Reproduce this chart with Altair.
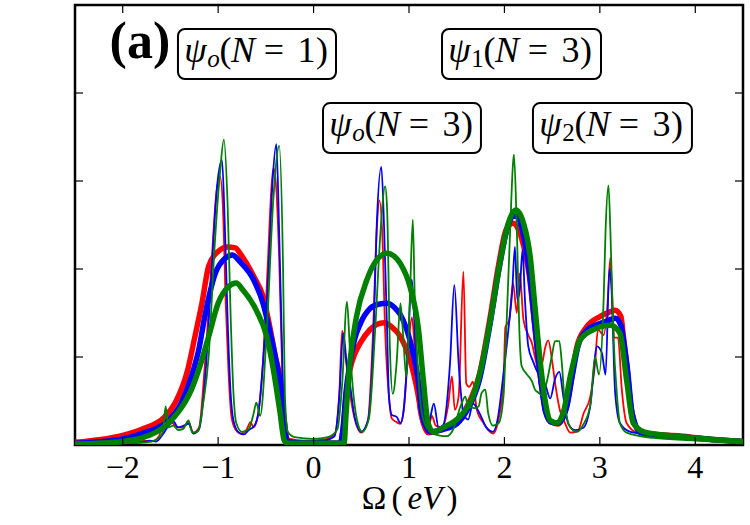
import altair as alt
import pandas as pd

# ---------------------------------------------------------------------------
# Spectral functions A(Omega) for the three states, sharp (thin) and
# broadened (thick) versions.
# ---------------------------------------------------------------------------
red_thin_x = [-2.50, -2.20, -2.00, -1.85, -1.77, -1.70, -1.62, -1.56, -1.53, -1.48, -1.43, -1.37,
              -1.31, -1.26, -1.20, -1.14, -1.07, -1.02, -0.98, -0.95, -0.92, -0.89, -0.86, -0.82,
              -0.76, -0.70, -0.66, -0.63, -0.59, -0.53, -0.48, -0.44, -0.42, -0.39, -0.36, -0.33,
              -0.30, -0.25, -0.10, 0.10, 0.22, 0.27, 0.30, 0.33, 0.38, 0.43, 0.50, 0.57, 0.62,
              0.66, 0.69, 0.72, 0.75, 0.79, 0.82, 0.87, 0.91, 0.95, 0.99, 1.03, 1.06, 1.10, 1.15,
              1.20, 1.24, 1.28, 1.35, 1.41, 1.45, 1.48, 1.52, 1.57, 1.60, 1.63, 1.67, 1.71, 1.78,
              1.88, 1.94, 1.99, 2.01, 2.05, 2.09, 2.13, 2.16, 2.20, 2.25, 2.29, 2.32, 2.36, 2.40,
              2.43, 2.46, 2.50, 2.54, 2.58, 2.63, 2.69, 2.77, 2.83, 2.90, 2.95, 2.98, 3.04, 3.08,
              3.11, 3.13, 3.15, 3.19, 3.23, 3.28, 3.39, 3.60, 3.84, 4.10, 4.50]
red_thin_y = [0.01, 0.02, 0.03, 0.03, 0.05, 0.04, 0.10, 0.35, 0.22, 0.25, 0.20, 0.20,
              0.26, 0.14, 0.20, 0.90, 2.05, 2.85, 3.05, 2.70, 1.60, 0.80, 0.32, 0.18,
              0.13, 0.18, 0.26, 0.20, 0.30, 0.95, 2.05, 2.95, 3.15, 2.90, 2.10, 0.90,
              0.18, 0.07, 0.05, 0.06, 0.12, 0.60, 1.30, 1.05, 0.60, 0.30, 0.14, 0.28, 1.20,
              2.40, 2.78, 2.40, 1.30, 0.55, 0.30, 0.26, 0.24, 0.45, 1.05, 1.45, 1.10, 0.40, 0.22,
              0.18, 0.33, 0.22, 0.20, 0.45, 0.78, 0.40, 0.55, 1.97, 0.70, 0.66, 0.72, 0.40, 0.25,
              0.13, 0.30, 0.70, 1.34, 1.42, 1.84, 1.50, 1.95, 1.42, 1.25, 1.15, 1.00, 0.85, 0.95,
              1.12, 1.19, 0.95, 0.64, 0.40, 0.26, 0.14, 0.16, 0.36, 0.55, 0.93, 1.31, 1.25, 1.60,
              2.13, 1.67, 1.22, 1.22, 0.63, 0.25, 0.14, 0.11, 0.10, 0.07, 0.03]

blue_thin_x = [-2.50, -2.00, -1.80, -1.72, -1.65, -1.58, -1.52, -1.47, -1.42, -1.36, -1.31, -1.26,
               -1.20, -1.13, -1.07, -1.01, -0.96, -0.93, -0.90, -0.87, -0.84, -0.79, -0.73, -0.68,
               -0.62, -0.58, -0.53, -0.47, -0.43, -0.39, -0.36, -0.33, -0.31, -0.27, -0.10, 0.10,
               0.22, 0.27, 0.31, 0.35, 0.38, 0.43, 0.50, 0.57, 0.63, 0.66, 0.71, 0.74, 0.77, 0.79,
               0.82, 0.87, 0.91, 0.94, 0.98, 1.03, 1.06, 1.11, 1.17, 1.22, 1.26, 1.31, 1.36, 1.43,
               1.475, 1.52, 1.57, 1.62, 1.67, 1.74, 1.81, 1.88, 1.93, 1.99, 2.06, 2.08, 2.11, 2.135,
               2.16, 2.19, 2.215, 2.25, 2.30, 2.36, 2.40, 2.43, 2.48, 2.53, 2.575, 2.62, 2.67, 2.74,
               2.83, 2.90, 2.97, 3.02, 3.06, 3.10, 3.12, 3.16, 3.21, 3.32, 3.70, 4.10, 4.50]
blue_thin_y = [0.01, 0.02, 0.03, 0.05, 0.04, 0.12, 0.22, 0.27, 0.20, 0.22, 0.24, 0.13,
               0.18, 0.85, 1.95, 2.95, 3.24, 2.50, 1.40, 0.60, 0.28, 0.15, 0.12, 0.17,
               0.22, 0.35, 0.93, 2.03, 2.99, 3.42, 2.39, 1.07, 0.20, 0.06, 0.04, 0.05,
               0.10, 0.55, 1.27, 0.90, 0.70, 0.32, 0.15, 0.28, 1.31, 2.44, 3.16, 2.44, 1.31, 0.55,
               0.34, 0.32, 0.25, 0.36, 0.93, 1.88, 1.31, 0.40, 0.20, 0.30, 0.47, 0.20, 0.23, 0.93,
               1.82, 0.93, 0.36, 0.29, 0.47, 0.36, 0.20, 0.15, 0.30, 0.81, 1.50, 1.72, 2.25, 1.65,
               1.75, 2.22, 1.65, 1.12, 0.95, 0.80, 0.74, 0.68, 0.53, 0.75, 0.83, 0.53, 0.24, 0.17,
               0.20, 0.45, 1.12, 1.05, 0.80, 2.00, 1.82, 0.60, 0.25, 0.15, 0.10, 0.06, 0.03]

green_thin_x = [-2.50, -2.00, -1.75, -1.65, -1.58, -1.55, -1.52, -1.47, -1.42, -1.37, -1.31, -1.27,
                -1.21, -1.16, -1.10, -1.04, -0.98, -0.94, -0.90, -0.87, -0.84, -0.81, -0.75, -0.68,
                -0.63, -0.60, -0.56, -0.49, -0.42, -0.36, -0.32, -0.30, -0.27, -0.20, 0.00, 0.15,
                0.25, 0.30, 0.35, 0.38, 0.42, 0.47, 0.51, 0.58, 0.65, 0.70, 0.75, 0.77, 0.80, 0.83,
                0.87, 0.91, 0.94, 0.97, 1.01, 1.04, 1.06, 1.10, 1.15, 1.22, 1.31, 1.40, 1.46, 1.55,
                1.59, 1.62, 1.69, 1.73, 1.76, 1.80, 1.83, 1.88, 1.94, 1.99, 2.02, 2.06, 2.09, 2.10,
                2.13, 2.16, 2.18, 2.23, 2.29, 2.32, 2.35, 2.39, 2.44, 2.50, 2.53, 2.575, 2.60, 2.635,
                2.69, 2.76, 2.83, 2.90, 2.95, 2.99, 3.04, 3.06, 3.09, 3.11, 3.14, 3.18, 3.21, 3.28,
                3.56, 4.00, 4.50]
green_thin_y = [0.01, 0.02, 0.03, 0.06, 0.15, 0.44, 0.20, 0.22, 0.17, 0.18, 0.28, 0.14,
                0.16, 0.45, 1.00, 2.20, 3.10, 3.47, 2.70, 1.50, 0.60, 0.25, 0.15, 0.18,
                0.35, 0.48, 0.33, 1.31, 2.82, 3.40, 2.03, 0.55, 0.15, 0.09, 0.07, 0.09,
                0.18, 0.70, 1.63, 1.10, 0.55, 0.22, 0.15, 0.30, 1.40, 2.40, 2.94, 2.70, 1.10, 0.58,
                0.93, 1.61, 1.23, 0.78, 1.69, 2.56, 1.69, 0.74, 0.29, 0.15, 0.11, 0.10, 0.17, 0.47,
                0.55, 0.44, 0.42, 0.44, 0.59, 0.63, 0.36, 0.22, 0.25, 0.55, 1.31, 2.44, 3.20, 3.30,
                2.44, 1.20, 0.90, 0.81, 0.72, 0.63, 0.60, 0.57, 0.70, 1.03, 1.18, 1.18, 0.95, 0.44,
                0.20, 0.15, 0.24, 0.45, 1.00, 0.80, 1.67, 2.44, 2.95, 2.44, 1.31, 0.55, 0.25, 0.14,
                0.08, 0.05, 0.02]

red_thick_x = [-2.50, -2.25, -2.00, -1.80, -1.56, -1.45, -1.32, -1.24, -1.17, -1.10, -1.00, -0.90,
               -0.82, -0.76, -0.70, -0.62, -0.53, -0.46, -0.40, -0.35, -0.31, -0.28, -0.25, 0.28,
               0.31, 0.34, 0.38, 0.43, 0.49, 0.59, 0.66, 0.74, 0.82, 0.91, 1.01, 1.08, 1.15, 1.20,
               1.30, 1.40, 1.50, 1.60, 1.74, 1.85, 1.94, 2.02, 2.09, 2.15, 2.20, 2.26, 2.32, 2.38,
               2.43, 2.48, 2.56, 2.65, 2.71, 2.76, 2.86, 3.00, 3.10, 3.16, 3.22, 3.25, 3.28, 3.33,
               3.42, 3.60, 3.87, 4.20, 4.50]
red_thick_y = [0.03, 0.06, 0.11, 0.18, 0.32, 0.48, 0.85, 1.25, 1.61, 2.03, 2.20, 2.25,
               2.24, 2.16, 2.06, 1.90, 1.69, 1.35, 1.00, 0.74, 0.30, 0.06, 0.02, 0.02,
               0.18, 0.55, 0.85, 1.03, 1.16, 1.31, 1.37, 1.39, 1.34, 1.23, 0.97, 0.66, 0.25, 0.14,
               0.16, 0.20, 0.25, 0.42, 0.81, 1.45, 2.05, 2.45, 2.52, 2.44, 2.27, 1.93, 1.33, 0.75,
               0.40, 0.27, 0.24, 0.44, 0.80, 1.12, 1.34, 1.46, 1.51, 1.53, 1.46, 1.20, 0.93, 0.40,
               0.15, 0.12, 0.10, 0.06, 0.04]

blue_thick_x = [-2.50, -2.00, -1.80, -1.52, -1.40, -1.28, -1.20, -1.14, -1.03, -0.93, -0.85, -0.77,
                -0.63, -0.53, -0.46, -0.40, -0.35, -0.31, -0.28, -0.25, 0.28, 0.31, 0.34, 0.38,
                0.43, 0.49, 0.59, 0.68, 0.77, 0.85, 0.91, 1.01, 1.08, 1.15, 1.22, 1.30, 1.40, 1.50,
                1.60, 1.74, 1.85, 1.94, 2.02, 2.09, 2.13, 2.20, 2.26, 2.32, 2.38, 2.43, 2.49, 2.56,
                2.65, 2.71, 2.77, 2.86, 3.00, 3.10, 3.16, 3.22, 3.26, 3.29, 3.34, 3.43, 3.60, 3.87,
                4.20, 4.50]
blue_thick_y = [0.02, 0.07, 0.13, 0.28, 0.45, 0.78, 1.10, 1.46, 1.95, 2.12, 2.16, 2.08,
                1.88, 1.61, 1.30, 1.00, 0.70, 0.28, 0.05, 0.02, 0.02, 0.20, 0.60, 0.92,
                1.20, 1.38, 1.55, 1.60, 1.61, 1.56, 1.48, 1.19, 0.85, 0.32, 0.15, 0.16, 0.19, 0.24,
                0.38, 0.75, 1.38, 1.98, 2.42, 2.60, 2.60, 2.38, 1.98, 1.35, 0.75, 0.38, 0.26, 0.25,
                0.42, 0.78, 1.12, 1.30, 1.38, 1.42, 1.44, 1.36, 1.10, 0.85, 0.35, 0.14, 0.11, 0.09,
                0.06, 0.04]

green_thick_x = [-2.50, -2.00, -1.80, -1.52, -1.40, -1.28, -1.19, -1.10, -1.00, -0.89, -0.81, -0.74,
                 -0.60, -0.49, -0.42, -0.35, -0.31, -0.28, 0.32, 0.34, 0.38, 0.45, 0.56, 0.66,
                 0.77, 0.84, 0.91, 1.01, 1.10, 1.15, 1.20, 1.255, 1.36, 1.53, 1.67, 1.74, 1.85, 1.95,
                 2.04, 2.12, 2.20, 2.27, 2.32, 2.37, 2.42, 2.48, 2.55, 2.62, 2.69, 2.75, 2.79, 2.93,
                 3.11, 3.21, 3.28, 3.35, 3.46, 3.70, 4.00, 4.50]
green_thick_y = [0.01, 0.04, 0.08, 0.25, 0.40, 0.63, 0.90, 1.23, 1.61, 1.80, 1.84, 1.76,
                 1.53, 1.23, 0.85, 0.36, 0.06, 0.02, 0.02, 0.35, 0.93, 1.46, 1.88, 2.10,
                 2.18, 2.15, 2.06, 1.80, 1.31, 0.74, 0.25, 0.15, 0.20, 0.32, 0.55, 0.80, 1.40, 2.05,
                 2.52, 2.67, 2.52, 2.14, 1.57, 1.00, 0.55, 0.28, 0.25, 0.38, 0.78, 1.05, 1.19, 1.31,
                 1.36, 1.27, 0.74, 0.25, 0.15, 0.11, 0.08, 0.04]

x_ticks = [-2, -1, 0, 1, 2, 3, 4]
x_tick_labels = ["\u22122", "\u22121", "0", "1", "2", "3", "4"]
y_ticks = [1, 2, 3, 4]

# state labels: box extents (data units), subscript and particle number
box_x0 = [-1.421, 0.099, 1.346, 2.299]
box_x1 = [0.235, 1.754, 3.012, 3.965]
box_y0 = [4.159, 3.318, 4.159, 3.318]
box_y1 = [4.727, 3.886, 4.727, 3.886]
box_sub = ["o", "o", "1", "2"]
box_n = ["1", "3", "3", "3"]

# ---------------------------------------------------------------------------
X_MIN, X_MAX = -2.5, 4.5
Y_MIN, Y_MAX = 0.0, 5.0
W, H = 668, 440
SERIF = "Liberation Serif"
UX = (X_MAX - X_MIN) / W   # data units per pixel
UY = (Y_MAX - Y_MIN) / H

xs = alt.Scale(domain=[X_MIN, X_MAX], nice=False, zero=False)
ys = alt.Scale(domain=[Y_MIN, Y_MAX], nice=False, zero=False)


def enc_x(field):
    return alt.X(field, type="quantitative", scale=xs, axis=None)


def enc_y(field):
    return alt.Y(field, type="quantitative", scale=ys, axis=None)


def spectrum(xv, yv, color, width):
    df = pd.DataFrame({"omega": xv, "A": yv})
    return alt.Chart(df).mark_line(
        color=color, strokeWidth=width, interpolate="monotone", clip=True,
        strokeJoin="round", strokeCap="round"
    ).encode(x=enc_x("omega"), y=enc_y("A"))


lines = [
    spectrum(red_thin_x, red_thin_y, "#ff0000", 1.8),
    spectrum(red_thick_x, red_thick_y, "#ff0000", 5.5),
    spectrum(blue_thin_x, blue_thin_y, "#0000ff", 1.8),
    spectrum(blue_thick_x, blue_thick_y, "#0000ff", 5.5),
    spectrum(green_thin_x, green_thin_y, "#008000", 1.8),
    spectrum(green_thick_x, green_thick_y, "#008000", 5.5),
]

# inward ticks on all four sides, labels under the bottom ones
xt = pd.DataFrame({"t": x_ticks, "label": x_tick_labels})
yt = pd.DataFrame({"t": y_ticks})
tick_style = dict(color="black", strokeWidth=1.2)
ticks = [
    alt.Chart(xt).mark_rule(**tick_style).encode(x=enc_x("t"), y=alt.value(H), y2=alt.value(H - 8)),
    alt.Chart(xt).mark_rule(**tick_style).encode(x=enc_x("t"), y=alt.value(0), y2=alt.value(8)),
    alt.Chart(yt).mark_rule(**tick_style).encode(y=enc_y("t"), x=alt.value(0), x2=alt.value(8)),
    alt.Chart(yt).mark_rule(**tick_style).encode(y=enc_y("t"), x=alt.value(W), x2=alt.value(W - 8)),
]
tick_labels = alt.Chart(xt).mark_text(
    font=SERIF, fontSize=32, align="center", baseline="alphabetic", color="black"
).encode(x=enc_x("t"), y=alt.value(H + 33), text="label:N")

# label boxes
boxes_df = pd.DataFrame({"x0": box_x0, "x1": box_x1, "y0": box_y0, "y1": box_y1})
boxes = alt.Chart(boxes_df).mark_rect(
    fill="white", stroke="black", strokeWidth=2, cornerRadius=7
).encode(x=enc_x("x0"), x2="x1", y=enc_y("y0"), y2="y1")

# label text, built from pieces so that psi and N are italic and the
# state index is a subscript
rows = []
for x0, y0, y1, sub, n in zip(box_x0, box_y0, box_y1, box_sub, box_n):
    yc = (y0 + y1) / 2
    sub_style = "italic" if sub == "o" else "normal"
    pieces = [("ψ", "italic", 36, 17.5, 8), (sub, sub_style, 25, 35.5, 13),
              ("(", "normal", 36, 47.5, 8), ("N", "italic", 36, 65, 8),
              ("=", "normal", 36, 96, 8), (n, "normal", 36, 128.5, 8),
              (")", "normal", 36, 144, 8)]
    for txt, style, size, dx, dy in pieces:
        rows.append({"x": x0 + dx * UX, "y": yc - dy * UY, "text": txt,
                     "style": style, "size": size})
label_df = pd.DataFrame(rows)

label_layers = []
for (style, size), grp in label_df.groupby(["style", "size"]):
    label_layers.append(
        alt.Chart(grp.reset_index(drop=True)).mark_text(
            font=SERIF, fontSize=int(size), fontStyle=style, align="center",
            baseline="alphabetic", color="black"
        ).encode(x=enc_x("x"), y=enc_y("y"), text="text:N")
    )

panel_df = pd.DataFrame({"x": [-1.82], "y": [4.40], "text": ["(a)"]})
panel = alt.Chart(panel_df).mark_text(
    font=SERIF, fontSize=52, fontWeight="bold", align="center",
    baseline="alphabetic", color="black"
).encode(x=enc_x("x"), y=enc_y("y"), text="text:N")

# x-axis title  Ω (eV)  with italic eV
one = pd.DataFrame({"k": [0]})
title_pieces = [("Ω", "normal", 299), ("(", "normal", 322), ("eV", "italic", 350),
                (")", "normal", 377)]
title_layers = [
    alt.Chart(one).mark_text(
        font=SERIF, fontSize=33, fontStyle=style, align="center",
        baseline="alphabetic", color="black"
    ).encode(x=alt.value(px), y=alt.value(H + 64), text=alt.value(txt))
    for txt, style, px in title_pieces
]

chart = alt.layer(
    *lines, *ticks, tick_labels, boxes, *label_layers, panel, *title_layers
).properties(
    width=W, height=H, autosize="none",
    padding={"left": 75, "top": 5, "right": 7, "bottom": 80},
    background="white",
).configure_view(
    stroke="black", strokeWidth=2.5
)

chart.save("out.html", embed_options={"renderer": "svg", "actions": False})
